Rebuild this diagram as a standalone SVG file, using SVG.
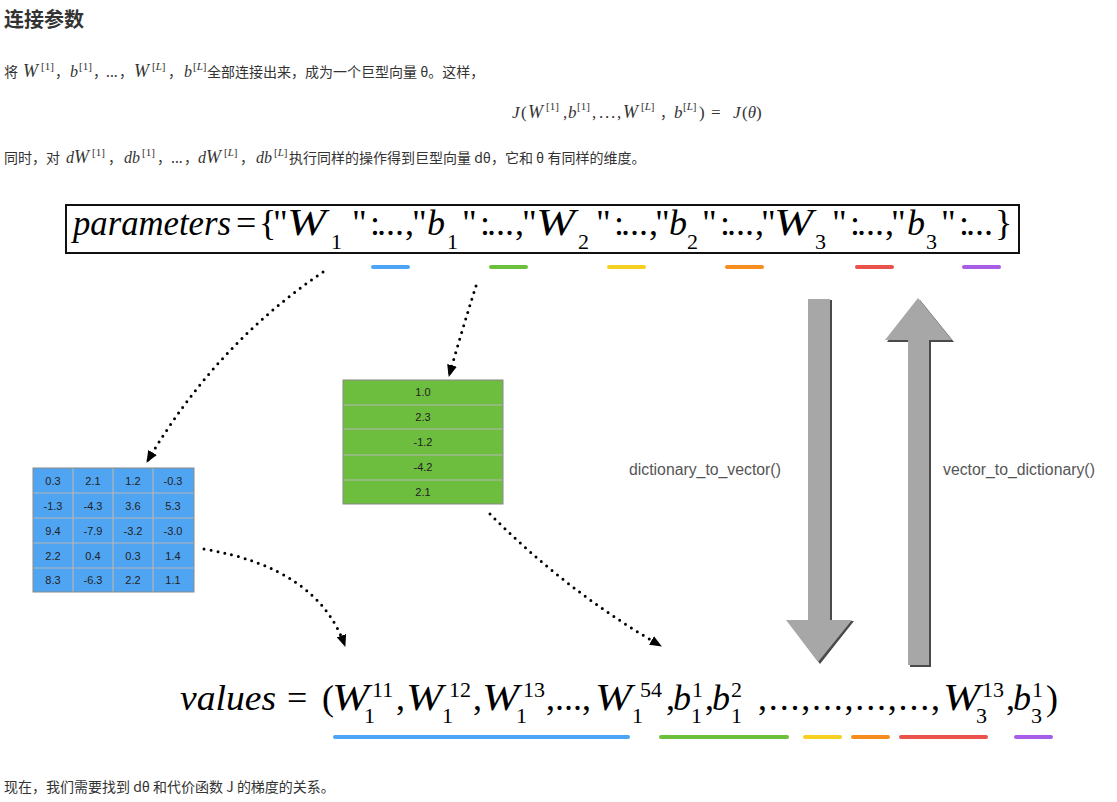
<svg xmlns="http://www.w3.org/2000/svg" width="1117" height="802" viewBox="0 0 1117 802">
<defs>
<style>
.cjk{font-family:"Noto Sans CJK SC","Noto Sans",sans-serif;font-size:14px;fill:#333}
.ttl{font-family:"Noto Sans CJK SC","Noto Sans",sans-serif;font-size:20px;font-weight:bold;fill:#333}
.mi{font-family:"Liberation Serif",serif;font-style:italic;fill:#333}
.mr{font-family:"Liberation Serif",serif;fill:#333}
.sup{font-family:"Liberation Serif",serif;font-size:11px;fill:#333}
.bi{font-family:"Liberation Serif",serif;font-style:italic;font-size:36px;fill:#000}
.bw{font-family:"Liberation Serif",serif;font-style:italic;font-size:38px;fill:#000}
.br{font-family:"Liberation Serif",serif;font-size:36px;fill:#000}
.bs{font-family:"Liberation Serif",serif;font-size:22px;fill:#000}
.cell{font-family:"Liberation Sans",Arial,sans-serif;font-size:11px;fill:#222;text-anchor:middle}
.lbl{font-family:"Liberation Sans",Arial,sans-serif;font-size:15.8px;fill:#555}
.dot{fill:none;stroke:#000;stroke-width:3;stroke-linecap:round;stroke-dasharray:0 7}
.garrow{fill:#a7a7a7}
.gshadow{fill:#4a4a4a}
</style>
<marker id="ah" viewBox="0 0 12 10" refX="11" refY="5" markerWidth="12" markerHeight="10" markerUnits="userSpaceOnUse" orient="auto">
<path d="M0,0 L12,5 L0,10 z" fill="#000"/>
</marker>
</defs>
<rect width="1117" height="802" fill="#fff"/>

<g id="title"><text class="ttl" x="4" y="27">连接参数</text></g>

<g id="para1">
<text class="cjk" x="4" y="77">将</text>
<text class="mi" x="23" y="77" font-size="18">W</text>
<text class="sup" x="41" y="70">[1]</text>
<text class="cjk" x="55" y="77">，</text>
<text class="mi" x="70" y="77" font-size="16">b</text>
<text class="sup" x="79" y="70">[1]</text>
<text class="cjk" x="93" y="77">，</text>
<text class="cjk" x="106" y="77">...</text>
<text class="cjk" x="119" y="77">，</text>
<text class="mi" x="134" y="77" font-size="18">W</text>
<text class="sup" x="152" y="70">[<tspan font-style="italic">L</tspan>]</text>
<text class="cjk" x="168" y="77">，</text>
<text class="mi" x="184" y="77" font-size="16">b</text>
<text class="sup" x="193" y="70">[<tspan font-style="italic">L</tspan>]</text>
<text class="cjk" x="207" y="77">全部连接出来，成为一个巨型向量 θ。这样，</text>
</g>

<g id="formula">
<text class="mi" x="512" y="118" font-size="17">J</text>
<text class="mr" x="521" y="118" font-size="17">(</text>
<text class="mi" x="528" y="118" font-size="18">W</text>
<text class="sup" x="546" y="110" font-size="12">[1]</text>
<text class="mr" x="563" y="118" font-size="17">,</text>
<text class="mi" x="568" y="118" font-size="17">b</text>
<text class="sup" x="577" y="110" font-size="12">[1]</text>
<text class="mr" x="592 599 605 611 617" y="118" font-size="17">,...,</text>
<text class="mi" x="623" y="118" font-size="18">W</text>
<text class="sup" x="641" y="110" font-size="12">[<tspan font-style="italic">L</tspan>]</text>
<text class="cjk" x="660" y="118">，</text>
<text class="mi" x="674" y="118" font-size="17">b</text>
<text class="sup" x="683" y="110" font-size="12">[<tspan font-style="italic">L</tspan>]</text>
<text class="mr" x="699" y="118" font-size="17">)</text>
<text class="mr" x="711" y="118" font-size="17">=</text>
<text class="mi" x="733" y="118" font-size="17">J</text>
<text class="mr" x="742" y="118" font-size="17">(<tspan font-style="italic">θ</tspan>)</text>
</g>

<g id="para2">
<text class="cjk" x="4" y="163">同时，对</text>
<text class="mi" x="66" y="163" font-size="16">d</text>
<text class="mi" x="74" y="163" font-size="18">W</text>
<text class="sup" x="92" y="156">[1]</text>
<text class="cjk" x="108" y="163">，</text>
<text class="mi" x="124" y="163" font-size="16">db</text>
<text class="sup" x="142" y="156">[1]</text>
<text class="cjk" x="157" y="163">，</text>
<text class="cjk" x="171" y="163">...</text>
<text class="cjk" x="184" y="163">，</text>
<text class="mi" x="198" y="163" font-size="16">d</text>
<text class="mi" x="206" y="163" font-size="18">W</text>
<text class="sup" x="224" y="156">[<tspan font-style="italic">L</tspan>]</text>
<text class="cjk" x="240" y="163">，</text>
<text class="mi" x="256" y="163" font-size="16">db</text>
<text class="sup" x="274" y="156">[<tspan font-style="italic">L</tspan>]</text>
<text class="cjk" x="289" y="163">执行同样的操作得到巨型向量 dθ，它和 θ 有同样的维度。</text>
</g>

<g id="parameters">
<rect x="66" y="205" width="953" height="48" fill="#fff" stroke="#111" stroke-width="2"/>
<text class="bi" x="73" y="235" textLength="158" lengthAdjust="spacingAndGlyphs">parameters</text>
<text class="br" x="236" y="235">=</text>
<text class="br" x="259 273" y="235">{"</text>
<text class="bw" x="287" y="235" textLength="39" lengthAdjust="spacingAndGlyphs">W</text>
<text class="bs" x="331" y="249">1</text>
<text class="br" x="352 370 377 386 395 405 412" y="235">":...,"</text>
<text class="bi" x="427" y="235">b</text>
<text class="bs" x="447" y="249">1</text>
<text class="br" x="462 480 487 496 505 515 522" y="235">":...,"</text>
<text class="bw" x="536" y="235" textLength="39" lengthAdjust="spacingAndGlyphs">W</text>
<text class="bs" x="578" y="249">2</text>
<text class="br" x="596 614 621 630 639 649 655" y="235">":...,"</text>
<text class="bi" x="669" y="235">b</text>
<text class="bs" x="687" y="249">2</text>
<text class="br" x="702 720 727 736 745 755 761" y="235">":...,"</text>
<text class="bw" x="774" y="235" textLength="39" lengthAdjust="spacingAndGlyphs">W</text>
<text class="bs" x="815" y="249">3</text>
<text class="br" x="832 850 857 866 875 885 891" y="235">":...,"</text>
<text class="bi" x="907" y="235">b</text>
<text class="bs" x="926" y="249">3</text>
<text class="br" x="941 959 966 975 984 995" y="235">":...}</text>
</g>

<g id="param-underlines">
<rect x="371" y="265" width="39" height="4" rx="2" fill="#4da3f5"/>
<rect x="489" y="265" width="39" height="4" rx="2" fill="#6cc03c"/>
<rect x="607" y="265" width="39" height="4" rx="2" fill="#f5d020"/>
<rect x="725" y="265" width="39" height="4" rx="2" fill="#f68d1e"/>
<rect x="855" y="265" width="39" height="4" rx="2" fill="#ea524c"/>
<rect x="962" y="265" width="39" height="4" rx="2" fill="#a65ee6"/>
</g>

<g id="matrix-W1">
<rect x="33" y="468" width="161" height="124" fill="#50a5f3"/>
<g stroke="#b5b5b5" stroke-width="1.2">
<line x1="73" y1="468" x2="73" y2="592"/><line x1="113" y1="468" x2="113" y2="592"/><line x1="153" y1="468" x2="153" y2="592"/>
<line x1="33" y1="493" x2="194" y2="493"/><line x1="33" y1="518" x2="194" y2="518"/><line x1="33" y1="543" x2="194" y2="543"/><line x1="33" y1="568" x2="194" y2="568"/>
</g>
<rect x="33" y="468" width="161" height="124" fill="none" stroke="#888" stroke-width="1"/>
<text class="cell" x="53" y="485">0.3</text><text class="cell" x="93" y="485">2.1</text><text class="cell" x="133" y="485">1.2</text><text class="cell" x="173" y="485">-0.3</text>
<text class="cell" x="53" y="510">-1.3</text><text class="cell" x="93" y="510">-4.3</text><text class="cell" x="133" y="510">3.6</text><text class="cell" x="173" y="510">5.3</text>
<text class="cell" x="53" y="535">9.4</text><text class="cell" x="93" y="535">-7.9</text><text class="cell" x="133" y="535">-3.2</text><text class="cell" x="173" y="535">-3.0</text>
<text class="cell" x="53" y="560">2.2</text><text class="cell" x="93" y="560">0.4</text><text class="cell" x="133" y="560">0.3</text><text class="cell" x="173" y="560">1.4</text>
<text class="cell" x="53" y="584">8.3</text><text class="cell" x="93" y="584">-6.3</text><text class="cell" x="133" y="584">2.2</text><text class="cell" x="173" y="584">1.1</text>
</g>

<g id="vector-b1">
<rect x="343" y="380" width="160" height="124" fill="#6dbe3f"/>
<g stroke="#b8b8b8" stroke-width="1.2">
<line x1="343" y1="405" x2="503" y2="405"/><line x1="343" y1="429" x2="503" y2="429"/><line x1="343" y1="455" x2="503" y2="455"/><line x1="343" y1="480" x2="503" y2="480"/>
</g>
<rect x="343" y="380" width="160" height="124" fill="none" stroke="#888" stroke-width="1"/>
<text class="cell" x="423" y="396">1.0</text>
<text class="cell" x="423" y="421">2.3</text>
<text class="cell" x="423" y="446">-1.2</text>
<text class="cell" x="423" y="471">-4.2</text>
<text class="cell" x="423" y="496">2.1</text>
</g>

<g id="values">
<text class="bi" x="180" y="710" textLength="96" lengthAdjust="spacingAndGlyphs">values</text>
<text class="br" x="287" y="710">=</text>
<text class="br" x="322" y="710">(</text>
<text class="bw" x="332" y="710" textLength="37" lengthAdjust="spacingAndGlyphs">W</text><text class="bs" x="372" y="697">11</text><text class="bs" x="364" y="723">1</text>
<text class="br" x="396" y="710">,</text>
<text class="bw" x="406" y="710" textLength="37" lengthAdjust="spacingAndGlyphs">W</text><text class="bs" x="449" y="697">12</text><text class="bs" x="442" y="723">1</text>
<text class="br" x="473" y="710">,</text>
<text class="bw" x="482" y="710" textLength="37" lengthAdjust="spacingAndGlyphs">W</text><text class="bs" x="523" y="697">13</text><text class="bs" x="516" y="723">1</text>
<text class="br" x="546" y="710">,...,</text>
<text class="bw" x="595" y="710" textLength="37" lengthAdjust="spacingAndGlyphs">W</text><text class="bs" x="640" y="697">54</text><text class="bs" x="632" y="723">1</text>
<text class="br" x="666" y="710">,</text>
<text class="bi" x="673" y="710">b</text><text class="bs" x="692" y="697">1</text><text class="bs" x="691" y="723">1</text>
<text class="br" x="705" y="710">,</text>
<text class="bi" x="712" y="710">b</text><text class="bs" x="731" y="697">2</text><text class="bs" x="731" y="723">1</text>
<text class="br" x="758" y="710" textLength="182" lengthAdjust="spacing">,...,...,...,...,</text>
<text class="bw" x="943" y="710" textLength="37" lengthAdjust="spacingAndGlyphs">W</text><text class="bs" x="982" y="697">13</text><text class="bs" x="976" y="723">3</text>
<text class="br" x="1006" y="710">,</text>
<text class="bi" x="1013" y="710">b</text><text class="bs" x="1032" y="697">1</text><text class="bs" x="1031" y="723">3</text>
<text class="br" x="1046" y="710">)</text>
</g>

<g id="value-underlines">
<rect x="333" y="735" width="297" height="4" rx="2" fill="#4da3f5"/>
<rect x="659" y="735" width="130" height="4" rx="2" fill="#6cc03c"/>
<rect x="803" y="735" width="39" height="4" rx="2" fill="#f5d020"/>
<rect x="851" y="735" width="39" height="4" rx="2" fill="#f68d1e"/>
<rect x="899" y="735" width="89" height="4" rx="2" fill="#ea524c"/>
<rect x="1014" y="735" width="39" height="4" rx="2" fill="#a65ee6"/>
</g>

<g id="label-d2v"><text class="lbl" x="629" y="475">dictionary_to_vector()</text></g>
<g id="label-v2d"><text class="lbl" x="943" y="475">vector_to_dictionary()</text></g>

<g id="connectors">
<path class="dot" d="M323,272 Q215,345 147,462" marker-end="url(#ah)"/>
<path class="dot" d="M476,286 Q462,330 449,376" marker-end="url(#ah)"/>
<path class="dot" d="M204,549 Q318,568 345,646" marker-end="url(#ah)"/>
<path class="dot" d="M490,514 Q565,590 661,646" marker-end="url(#ah)"/>
<g id="arrow-down">
<polygon class="gshadow" points="810,300 832,300 832,621 854,621 820,664 788,621 810,621"/>
<polygon class="garrow" points="808,299 830,299 830,620 852,620 818,662 786,620 808,620"/>
</g>
<g id="arrow-up">
<polygon class="gshadow" points="920,300 954,342 931,342 931,667 910,667 910,342 887,342"/>
<polygon class="garrow" points="918,298 952,340 929,340 929,665 908,665 908,340 885,340"/>
</g>
</g>

<g id="footer"><text class="cjk" x="4" y="792">现在，我们需要找到 dθ 和代价函数 J 的梯度的关系。</text></g>
</svg>
